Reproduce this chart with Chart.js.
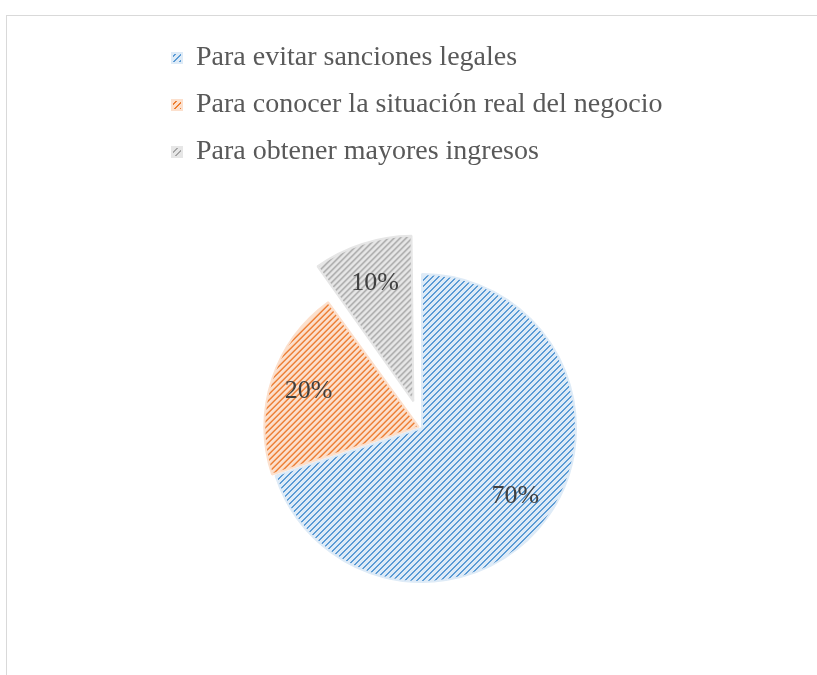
<!DOCTYPE html>
<html>
<head>
<meta charset="utf-8">
<script src="https://cdn.jsdelivr.net/npm/chart.js@4.4.0/dist/chart.umd.min.js"></script>
<style>
  html, body { margin: 0; padding: 0; background: #fff; overflow: hidden; }
  #frame { position: absolute; left: 6px; top: 15px; width: 900px; height: 800px;
           border-left: 1px solid #d9d9d9; border-top: 1px solid #d9d9d9; }
  #wrap { position: absolute; left: 0; top: 0; width: 817px; height: 675px; overflow: hidden; }
</style>
</head>
<body>
<div id="frame"></div>
<div id="wrap"><canvas id="chart" width="817" height="700"></canvas></div>
<script>
var labels = ["Para evitar sanciones legales", "Para conocer la situación real del negocio", "Para obtener mayores ingresos"];
var values = [70, 20, 10];
var percentLabels = ["70%", "20%", "10%"];
var darkColors = ["#5b9bd5", "#ed7d31", "#a5a5a5"];
var lightColors = ["#deebf7", "#fce0cd", "#e6e6e6"];
var explode = [0, 14, 112];

// diagonal stripe pattern like Excel "dark upward diagonal"
function stripes(dark, light) {
    var tile = document.createElement("canvas");
    tile.width = 6;
    tile.height = 6;
    var c = tile.getContext("2d");
    c.fillStyle = light;
    c.fillRect(0, 0, 6, 6);
    c.fillStyle = dark;
    for (let x = 0; x < 6; x++) {
        for (let y = 0; y < 6; y++) {
            if ((x + y) % 6 < 2) c.fillRect(x, y, 1, 1);
        }
    }
    return c.createPattern(tile, "repeat");
}

var fills = [];
for (let i = 0; i < darkColors.length; i++) {
    fills.push(stripes(darkColors[i], lightColors[i]));
}

var percentPlugin = {
    id: "percentLabels",
    afterDatasetsDraw: function(chart) {
        var ctx = chart.ctx;
        var arcs = chart.getDatasetMeta(0).data;
        ctx.save();
        ctx.font = "26px 'Liberation Serif'";
        ctx.fillStyle = "#404040";
        ctx.textAlign = "center";
        ctx.textBaseline = "middle";
        for (let i = 0; i < arcs.length; i++) {
            var a = arcs[i].getProps(["x", "y", "startAngle", "endAngle", "outerRadius", "circumference"], true);
            var mid = (a.startAngle + a.endAngle) / 2;
            // chart.js moves an exploded arc by offset/4 and grows it a little
            var t = explode[i] / 4;
            var grow = t * (1 - Math.sin(Math.min(Math.PI, a.circumference)));
            var d = t + (a.outerRadius + grow) * 0.75;
            ctx.fillText(percentLabels[i], a.x + Math.cos(mid) * d, a.y + Math.sin(mid) * d);
        }
        ctx.restore();
    }
};

var pieChart = new Chart(document.getElementById("chart"), {
    type: "pie",
    data: {
        labels: labels,
        datasets: [{
            data: values,
            backgroundColor: fills,
            borderColor: lightColors,
            borderWidth: 2,
            offset: explode
        }]
    },
    options: {
        responsive: false,
        animation: false,
        events: [],
        radius: 154,
        layout: { padding: { left: 153, right: 126, top: 25, bottom: 20 } },
        plugins: {
            legend: {
                position: "top",
                align: "start",
                labels: {
                    boxWidth: 10,
                    boxHeight: 10,
                    padding: 19,
                    color: "#595959",
                    font: { family: "'Liberation Serif'", size: 28 }
                }
            },
            tooltip: { enabled: false }
        }
    },
    plugins: [percentPlugin]
});
</script>
</body>
</html>
